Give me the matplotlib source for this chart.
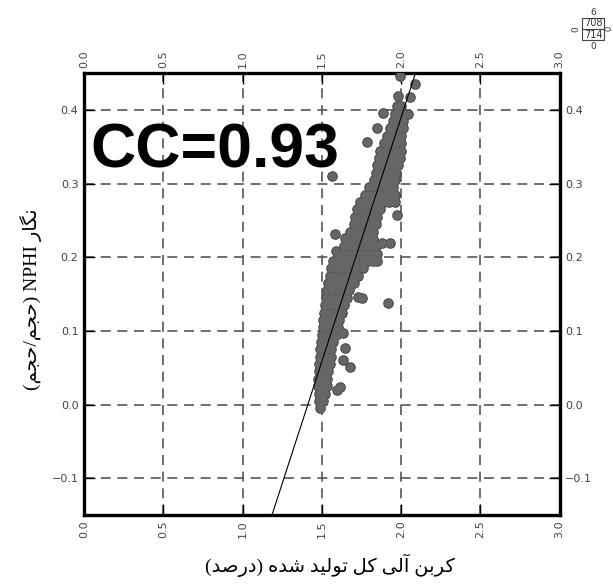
import numpy as np
import matplotlib
matplotlib.use("Agg")
import matplotlib.pyplot as plt
from matplotlib.patches import Rectangle

"""data read off the picture: dense band, one row per NPHI level"""
band_nphi = [-0.005, 0.005, 0.015, 0.025, 0.035, 0.045, 0.055, 0.065, 0.075, 0.085,
             0.095, 0.105, 0.115, 0.125, 0.135, 0.145, 0.155, 0.165, 0.175, 0.185,
             0.195, 0.205, 0.215, 0.225, 0.235, 0.245, 0.255, 0.265, 0.275, 0.285,
             0.295, 0.305, 0.315, 0.325, 0.335, 0.345, 0.355, 0.365, 0.375, 0.385,
             0.395, 0.405]
band_toc = [
    [1.49],
    [1.48, 1.51],
    [1.48, 1.50, 1.52],
    [1.475, 1.50, 1.53],
    [1.475, 1.505, 1.535],
    [1.48, 1.51, 1.54],
    [1.485, 1.515, 1.55],
    [1.49, 1.52, 1.555],
    [1.49, 1.525, 1.56],
    [1.495, 1.53, 1.57],
    [1.50, 1.53, 1.56, 1.59],
    [1.505, 1.54, 1.57, 1.60],
    [1.51, 1.545, 1.58, 1.61],
    [1.515, 1.55, 1.59, 1.625],
    [1.52, 1.555, 1.59, 1.615, 1.64],
    [1.525, 1.56, 1.595, 1.63, 1.66],
    [1.53, 1.565, 1.60, 1.635, 1.67],
    [1.54, 1.575, 1.61, 1.645, 1.675, 1.70],
    [1.55, 1.585, 1.62, 1.655, 1.695, 1.73],
    [1.56, 1.595, 1.63, 1.665, 1.70, 1.73, 1.76],
    [1.57, 1.605, 1.64, 1.675, 1.71, 1.76, 1.79, 1.82, 1.85],
    [1.60, 1.635, 1.67, 1.70, 1.74, 1.78, 1.82, 1.85],
    [1.64, 1.675, 1.71, 1.75, 1.78, 1.81, 1.84],
    [1.67, 1.70, 1.735, 1.77, 1.80, 1.82],
    [1.68, 1.715, 1.75, 1.79, 1.82],
    [1.70, 1.735, 1.77, 1.81, 1.84],
    [1.71, 1.745, 1.78, 1.815, 1.85],
    [1.72, 1.755, 1.79, 1.83, 1.87],
    [1.74, 1.775, 1.81, 1.85, 1.89, 1.925, 1.96],
    [1.77, 1.805, 1.84, 1.875, 1.91, 1.94, 1.96],
    [1.80, 1.835, 1.87, 1.90, 1.925, 1.95],
    [1.83, 1.86, 1.89, 1.925, 1.96],
    [1.84, 1.875, 1.905, 1.94, 1.97],
    [1.85, 1.885, 1.92, 1.95, 1.98],
    [1.86, 1.895, 1.93, 1.96, 1.99],
    [1.87, 1.905, 1.94, 1.97, 2.00],
    [1.89, 1.925, 1.96, 2.00],
    [1.91, 1.945, 1.975, 2.00],
    [1.93, 1.96, 1.99, 2.01],
    [1.95, 1.98, 2.01],
    [1.96, 1.985, 2.01],
    [1.975, 2.00],
]

"""loose points off the band"""
out_toc = [1.991, 2.086, 1.979, 2.054, 2.042, 1.884, 1.846, 1.783, 1.563, 1.909,
           1.972, 1.582, 1.645, 1.588, 1.878, 1.928, 1.916, 1.726, 1.752, 1.632,
           1.645, 1.632, 1.676, 1.594, 1.613]
out_nphi = [0.446, 0.435, 0.419, 0.418, 0.395, 0.396, 0.376, 0.357, 0.311, 0.286,
            0.258, 0.232, 0.226, 0.209, 0.219, 0.219, 0.138, 0.146, 0.145, 0.097,
            0.077, 0.061, 0.051, 0.020, 0.024]

"""regression line"""
fit_slope = 0.663
fit_intercept = -0.936
cc_text = "CC=0.93"

x_ticks = [0.0, 0.5, 1.0, 1.5, 2.0, 2.5, 3.0]
y_ticks = [-0.1, 0.0, 0.1, 0.2, 0.3, 0.4]

"""persian labels, shaped by hand (presentation forms, visual order)"""
x_label = ("(\uFEAA\uFEBB\uFEAD\uFEA9) \uFEE9\uFEAA\uFEB7 \uFEAA\uFBFF\uFEDF\uFEEE\uFE97 "
           "\uFEDE\uFB90 \uFBFD\uFEDF\uFE81 \uFEE6\uFE91\uFEAE\uFB90")
y_label = "(\uFEE2\uFEA0\uFEA3/\uFEE2\uFEA0\uFEA3) NPHI \uFEAD\uFE8E\uFB95\uFEE7"

toc = []
nphi = []
for yv, row in zip(band_nphi, band_toc):
    for xv in row:
        toc.append(xv)
        nphi.append(yv)
toc += out_toc
nphi += out_nphi

fig = plt.figure(figsize=(6.13, 5.86), dpi=100)
ax = fig.add_axes([0.137, 0.121, 0.776, 0.754])

# dark layer underneath gives the blob its outline, lighter fill on top
ax.scatter(toc, nphi, s=58, color='#404040', linewidths=0, zorder=3)
ax.scatter(toc, nphi, s=40, color='#666666', linewidths=0, zorder=3)

line_x = np.array([1.0, 2.2])
ax.plot(line_x, fit_slope * line_x + fit_intercept, color='black', lw=0.8, zorder=4)

ax.set_xlim(0, 3)
ax.set_ylim(-0.15, 0.45)
ax.set_xticks(x_ticks)
ax.set_yticks(y_ticks)
ax.set_axisbelow(True)
ax.grid(True, linestyle=(0, (6, 4)), color='#555555', linewidth=1.2)

ax.tick_params(direction='in', length=8, width=1, top=True, right=True,
               labeltop=True, labelright=True, labelsize=8, labelcolor='#444444', pad=4)
ax.tick_params(axis='x', labelrotation=90)
for s in ax.spines.values():
    s.set_linewidth(2.4)

ax.text(0.04, 0.322, cc_text, fontsize=45, fontweight='bold', family='Liberation Sans',
        va='baseline', ha='left', zorder=5)

fig.text(0.538, 0.035, x_label, ha='center', va='center', fontsize=14,
         family=['Liberation Serif', 'DejaVu Sans'])
fig.text(0.05, 0.49, y_label, ha='center', va='center', rotation=90, fontsize=14,
         family=['Liberation Serif', 'DejaVu Sans'])

"""little header box in the corner"""
fig.patches.append(Rectangle((0.950, 0.932), 0.036, 0.0375, transform=fig.transFigure,
                             fill=False, lw=0.8, color='#444444'))
fig.lines.append(plt.Line2D([0.950, 0.986], [0.9505, 0.9505], transform=fig.transFigure,
                            lw=0.8, color='#444444'))
fig.text(0.968, 0.960, "708", ha='center', va='center', fontsize=7, color='#333333')
fig.text(0.968, 0.941, "714", ha='center', va='center', fontsize=7, color='#333333')
fig.text(0.968, 0.978, "6", ha='center', va='center', fontsize=6.5, color='#333333')
fig.text(0.968, 0.921, "0", ha='center', va='center', fontsize=6.5, color='#333333')
fig.text(0.939, 0.951, "0", ha='center', va='center', fontsize=6.5, color='#333333', rotation=90)
fig.text(0.993, 0.951, "0", ha='center', va='center', fontsize=6, color='#333333', rotation=90)

fig.savefig('out.png', dpi=100)
